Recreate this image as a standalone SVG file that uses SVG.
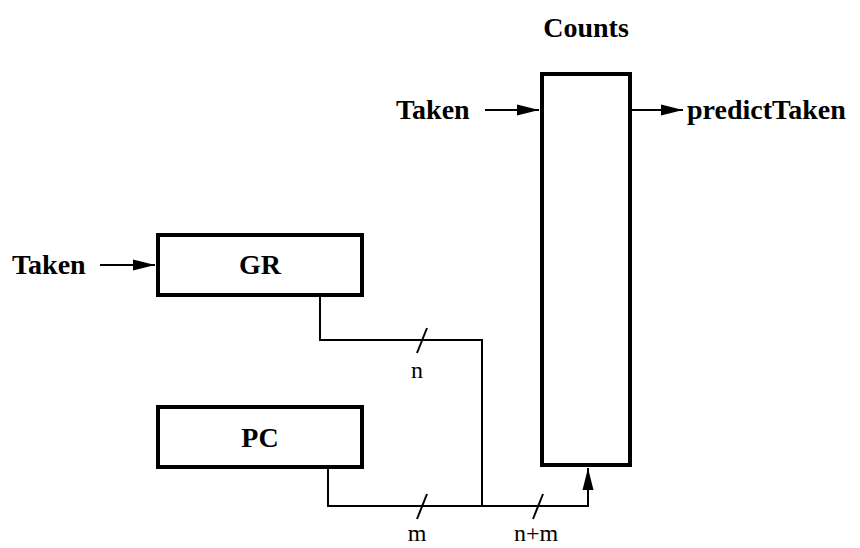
<svg xmlns="http://www.w3.org/2000/svg" width="860" height="548" viewBox="0 0 860 548">
<style>
.box{fill:#fff;stroke:#000;stroke-width:4}
.lbl{font-family:"Liberation Serif","Times New Roman",serif;font-weight:bold;font-size:28px;fill:#000}
.sm{font-family:"Liberation Serif","Times New Roman",serif;font-size:24px;fill:#000}
.wire{fill:none;stroke:#000;stroke-width:2}
</style>
<defs>
<marker id="ah" markerUnits="userSpaceOnUse" markerWidth="22" markerHeight="12" refX="22" refY="6" orient="auto">
<path d="M0,0.5 L22,6 L0,11.5 Z" fill="#000"/>
</marker>
</defs>
<rect width="860" height="548" fill="#fff"/>
<g id="counts">
<rect class="box" x="542" y="74" width="88" height="391"/>
<text class="lbl" x="586" y="37" text-anchor="middle">Counts</text>
</g>
<g id="gr">
<rect class="box" x="158" y="235" width="204" height="60"/>
<text class="lbl" x="260" y="274" text-anchor="middle">GR</text>
</g>
<g id="pc">
<rect class="box" x="158" y="407" width="204" height="60"/>
<text class="lbl" x="260" y="447" text-anchor="middle">PC</text>
</g>
<g id="taken-gr">
<text class="lbl" x="12" y="274">Taken</text>
</g>
<g id="taken-counts">
<text class="lbl" x="396" y="119">Taken</text>
</g>
<g id="predict">
<text class="lbl" x="687" y="119">predictTaken</text>
</g>
<g id="connectors">
<line class="wire" x1="100" y1="265" x2="155" y2="265" marker-end="url(#ah)"/>
<line class="wire" x1="485" y1="110" x2="539" y2="110" marker-end="url(#ah)"/>
<line class="wire" x1="632" y1="110" x2="683" y2="110" marker-end="url(#ah)"/>
<polyline class="wire" points="320,297 320,340 482,340 482,506"/>
<polyline class="wire" points="328,469 328,506 588,506 588,468" marker-end="url(#ah)"/>
<line class="wire" x1="417" y1="353" x2="427" y2="328"/>
<line class="wire" x1="417" y1="519" x2="427" y2="494"/>
<line class="wire" x1="533" y1="519" x2="543" y2="494"/>
<text class="sm" x="417" y="378" text-anchor="middle">n</text>
<text class="sm" x="417" y="541" text-anchor="middle">m</text>
<text class="sm" x="536" y="541" text-anchor="middle">n+m</text>
</g>
</svg>
